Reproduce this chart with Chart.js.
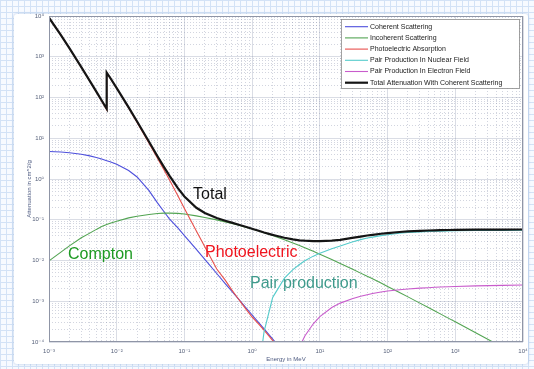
<!DOCTYPE html>
<html>
<head>
<meta charset="utf-8">
<title>Iron photon attenuation</title>
<script src="https://cdn.jsdelivr.net/npm/chart.js@4.4.1/dist/chart.umd.min.js"></script>
<style>
  html, body { margin: 0; padding: 0; }
  body {
    width: 534px; height: 369px; overflow: hidden; position: relative;
    background-color: #f7faff;
    background-image:
      linear-gradient(#d3e2f6 1px, transparent 1px),
      linear-gradient(90deg, #d3e2f6 1px, transparent 1px);
    background-size: 6px 6px;
  }
  #panel {
    position: absolute; left: 14px; top: 14px; width: 514px; height: 350px;
    background: #ffffff; border-radius: 3px;
    box-shadow: 0 0 3px rgba(130, 160, 210, 0.6);
  }
  #wrap { position: absolute; left: 0; top: 0; width: 534px; height: 369px; }
</style>
</head>
<body>
<div id="panel"></div>
<div id="wrap"><canvas id="chart" width="534" height="369"></canvas></div>
<script>
// Photon energy grid in MeV (the K edge at 7.112 keV appears twice)
const energy = [
  0.001, 0.0015, 0.002, 0.003, 0.004, 0.005, 0.006, 0.007112, 0.007112, 0.008,
  0.01, 0.015, 0.02, 0.03, 0.04, 0.05, 0.06, 0.08, 0.1, 0.15,
  0.2, 0.3, 0.4, 0.5, 0.6, 0.8, 1, 1.022, 1.25, 1.5,
  2, 2.044, 3, 4, 5, 6, 8, 10, 15, 20,
  30, 40, 50, 60, 80, 100, 150, 200, 300, 400,
  500, 600, 800, 1000, 2000, 5000, 10000
];

// Mass attenuation coefficients in cm^2/g
const coherent = [
  4.75, 4.6, 4.42, 4.05, 3.7, 3.38, 3.1, 2.82, 2.82, 2.64,
  2.3, 1.62, 1.12, 0.52, 0.26, 0.157, 0.105, 0.063, 0.041, 0.0187,
  0.0106, 0.0048, 0.0027, 0.00178, 0.00125, 0.00071, 0.00046, 0.00044, 0.000298, 0.000209,
  0.000119, 0.000114, 0.000054, 0.000031, 0.00002, 0.000014, 0.000008, 0.000005, null, null,
  null, null, null, null, null, null, null, null, null, null,
  null, null, null, null, null, null, null
];

const incoherent = [
  0.0098, 0.0161, 0.0229, 0.036, 0.047, 0.058, 0.068, 0.076, 0.076, 0.082,
  0.092, 0.111, 0.122, 0.135, 0.142, 0.145, 0.145, 0.143, 0.139, 0.1245,
  0.114, 0.0991, 0.0888, 0.0811, 0.075, 0.0659, 0.0592, 0.0587, 0.0529, 0.0481,
  0.0411, 0.0406, 0.0323, 0.0269, 0.0232, 0.0205, 0.0168, 0.0143, 0.01057, 0.00848,
  0.00617, 0.0049, 0.00408, 0.00355, 0.00279, 0.0023, 0.00164, 0.00128, 0.0009, 0.0007,
  0.000577, 0.00049, 0.00038, 0.000313, 0.000169, 0.0000742, 0.0000396
];

const photoelectric = [
  9080, 3394, 1622, 553.5, 253, 136.1, 81.2, 49.9, 404.7, 302.9,
  168.2, 55.4, 24.5, 7.59, 3.25, 1.67, 0.96, 0.39, 0.19, 0.053,
  0.0218, 0.0062, 0.0033, 0.0019, 0.00125, 0.00066, 0.00041, 0.000395, 0.000275, 0.000195,
  0.00011, 0.000106, 0.000056, 0.000036, 0.000026, null, null, null, null, null,
  null, null, null, null, null, null, null, null, null, null,
  null, null, null, null, null, null, null
];

const pairNuclear = [
  null, null, null, null, null, null, null, null, null, null,
  null, null, null, null, null, null, null, null, null, null,
  null, null, null, null, null, null, null, null, 0.000018, 0.00018,
  0.0012, 0.0013, 0.0037, 0.006, 0.008, 0.0099, 0.0128, 0.0151, 0.0195, 0.0227,
  0.0285, 0.0325, 0.0355, 0.0375, 0.0408, 0.043, 0.0465, 0.0485, 0.0505, 0.0515,
  0.0522, 0.0527, 0.0533, 0.0537, 0.0545, 0.055, 0.0552
];

const pairElectron = [
  null, null, null, null, null, null, null, null, null, null,
  null, null, null, null, null, null, null, null, null, null,
  null, null, null, null, null, null, null, null, null, null,
  null, null, 0.000005, 0.00003, 0.000075, 0.00014, 0.00028, 0.00042, 0.0007, 0.0009,
  0.00115, 0.00132, 0.00145, 0.00155, 0.00168, 0.00178, 0.00192, 0.002, 0.0021, 0.00215,
  0.0022, 0.00223, 0.00227, 0.0023, 0.00238, 0.00245, 0.0025
];

const totalAttenuation = [
  9085, 3399, 1626, 557.6, 256.7, 139.5, 84.36, 52.81, 407.6, 305.6,
  170.6, 57.08, 25.68, 8.176, 3.629, 1.958, 1.205, 0.5952, 0.3717, 0.1964,
  0.146, 0.1101, 0.0948, 0.0848, 0.0775, 0.0673, 0.0601, 0.0595, 0.0535, 0.0487,
  0.0425, 0.0421, 0.0361, 0.033, 0.0313, 0.0306, 0.0299, 0.0298, 0.0308, 0.0321,
  0.0358, 0.0387, 0.041, 0.0427, 0.0453, 0.0471, 0.0501, 0.0518, 0.0535, 0.0544,
  0.055, 0.0554, 0.056, 0.0563, 0.0571, 0.0575, 0.0577
];

const seriesNames = [
  'Coherent Scattering',
  'Incoherent Scattering',
  'Photoelectric Absorption',
  'Pair Production In Nuclear Field',
  'Pair Production In Electron Field',
  'Total Attenuation With Coherent Scattering'
];

// Decade tick labels
const xDecades = [-3, -2, -1, 0, 1, 2, 3, 4];
const xTickLabels = ['10⁻³', '10⁻²', '10⁻¹', '10⁰', '10¹', '10²', '10³', '10⁴'];
const yDecades = [-4, -3, -2, -1, 0, 1, 2, 3, 4];
const yTickLabels = ['10⁻⁴', '10⁻³', '10⁻²', '10⁻¹', '10⁰', '10¹', '10²', '10³', '10⁴'];

// Region callouts placed in data coordinates (energy, attenuation at baseline)
const callouts = [
  { text: 'Total',           at: [0.134, 0.324],    color: '#111111' },
  { text: 'Compton',         at: [0.00191, 0.0109], color: '#1d9a22' },
  { text: 'Photoelectric',   at: [0.201, 0.0125],   color: '#f0141e' },
  { text: 'Pair production', at: [0.93, 0.00211],   color: '#3f9a8c' }
];

const styles = [
  { color: '#4d4fdc', width: 1.1 },
  { color: '#52a452', width: 1.1 },
  { color: '#e8504c', width: 1.1 },
  { color: '#55cbcb', width: 1.1 },
  { color: '#c85ccc', width: 1.1 },
  { color: '#151515', width: 2.2 }
];

const seriesValues = [coherent, incoherent, photoelectric, pairNuclear, pairElectron, totalAttenuation];

function toPoints(values) {
  return energy.map((e, i) => ({ x: e, y: values[i] }));
}

function decadeTicks(decades) {
  const out = [];
  for (let k = 0; k < decades.length - 1; k++) {
    for (let m = 1; m <= 9; m++) {
      out.push({ value: parseFloat((m * Math.pow(10, decades[k])).toPrecision(6)) });
    }
  }
  out.push({ value: Math.pow(10, decades[decades.length - 1]) });
  return out;
}

function decadeLabel(value, decades, labels) {
  const p = Math.round(Math.log10(value));
  if (Math.abs(value / Math.pow(10, p) - 1) > 1e-6) return '';
  const idx = decades.indexOf(p);
  return idx >= 0 ? labels[idx] : '';
}

function isDecade(value) {
  const p = Math.round(Math.log10(value));
  return Math.abs(value / Math.pow(10, p) - 1) < 1e-6;
}

const gridMajor = 'rgba(120,130,160,0.34)';
const gridMinor = 'rgba(120,130,160,0.42)';
const tickFont = { family: '"Liberation Sans", "DejaVu Sans", Arial, sans-serif', size: 6 };

const datasets = seriesValues.map((vals, i) => ({
  label: seriesNames[i],
  data: toPoints(vals),
  borderColor: styles[i].color,
  backgroundColor: styles[i].color,
  borderWidth: styles[i].width,
  pointRadius: 0,
  pointHoverRadius: 0,
  tension: 0,
  fill: false,
  spanGaps: false,
  order: i === seriesValues.length - 1 ? -1 : seriesValues.length - i
}));

const decorations = {
  id: 'decorations',
  afterDatasetsDraw(chart) {
    const { ctx, chartArea: a, scales } = chart;
    ctx.save();
    // axes box
    ctx.strokeStyle = '#8f95a6';
    ctx.lineWidth = 1;
    ctx.strokeRect(a.left + 0.5, a.top + 0.5, a.right - a.left - 1, a.bottom - a.top - 1);

    // region callouts
    ctx.font = '16px "Liberation Sans", Arial, sans-serif';
    ctx.textAlign = 'left';
    ctx.textBaseline = 'alphabetic';
    callouts.forEach(c => {
      ctx.fillStyle = c.color;
      ctx.fillText(c.text, scales.x.getPixelForValue(c.at[0]), scales.y.getPixelForValue(c.at[1]));
    });

    // legend
    const items = chart.data.datasets;
    const lw = 178, lh = 69;
    const lx = a.right - 4 - lw, ly = a.top + 3;
    ctx.fillStyle = '#ffffff';
    ctx.fillRect(lx, ly, lw, lh);
    ctx.strokeStyle = '#8a8a8a';
    ctx.lineWidth = 0.8;
    ctx.strokeRect(lx + 0.5, ly + 0.5, lw, lh);
    ctx.font = '7px "Liberation Sans", Arial, sans-serif';
    ctx.textBaseline = 'middle';
    items.forEach((ds, i) => {
      const yy = ly + 7.7 + i * 11.2;
      ctx.strokeStyle = ds.borderColor;
      ctx.lineWidth = ds.borderWidth;
      ctx.beginPath();
      ctx.moveTo(lx + 4, yy);
      ctx.lineTo(lx + 27, yy);
      ctx.stroke();
      ctx.fillStyle = '#222222';
      ctx.fillText(ds.label, lx + 29, yy);
    });

    // axis titles
    ctx.fillStyle = '#4d5a80';
    ctx.font = '6px "Liberation Sans", Arial, sans-serif';
    ctx.textAlign = 'center';
    ctx.fillText('Energy in MeV', (a.left + a.right) / 2, a.bottom + 17);
    ctx.translate(29, (a.top + a.bottom) / 2 + 10);
    ctx.rotate(-Math.PI / 2);
    ctx.fillText('Attenuation in cm^2/g', 0, 0);
    ctx.restore();
  }
};

new Chart(document.getElementById('chart'), {
  type: 'line',
  data: { datasets },
  options: {
    responsive: false,
    animation: false,
    devicePixelRatio: 1,
    layout: { padding: { top: 16, right: 11, left: 0, bottom: 0 } },
    plugins: { legend: { display: false }, tooltip: { enabled: false } },
    scales: {
      x: {
        type: 'logarithmic',
        min: 1e-3, max: 1e4,
        afterBuildTicks: s => { s.ticks = decadeTicks(xDecades); },
        afterFit: s => { s.height = 27; },
        ticks: {
          autoSkip: false, maxRotation: 0, minRotation: 0, padding: 6,
          color: '#56607a', font: tickFont,
          callback: v => decadeLabel(v, xDecades, xTickLabels)
        },
        grid: {
          drawTicks: false,
          color: c => (c.tick && isDecade(c.tick.value)) ? gridMajor : gridMinor,
          lineWidth: 0.8
        },
        border: {
          display: false,
          dash: c => (c.tick && !isDecade(c.tick.value)) ? [1, 2] : []
        }
      },
      y: {
        type: 'logarithmic',
        min: 1e-4, max: 1e4,
        afterBuildTicks: s => { s.ticks = decadeTicks(yDecades); },
        afterFit: s => { s.width = 49; },
        ticks: {
          autoSkip: false, padding: 5,
          color: '#56607a', font: tickFont,
          callback: v => decadeLabel(v, yDecades, yTickLabels)
        },
        grid: {
          drawTicks: false,
          color: c => (c.tick && isDecade(c.tick.value)) ? gridMajor : gridMinor,
          lineWidth: 0.8
        },
        border: {
          display: false,
          dash: c => (c.tick && !isDecade(c.tick.value)) ? [1, 2] : []
        }
      }
    }
  },
  plugins: [decorations]
});
</script>
</body>
</html>
